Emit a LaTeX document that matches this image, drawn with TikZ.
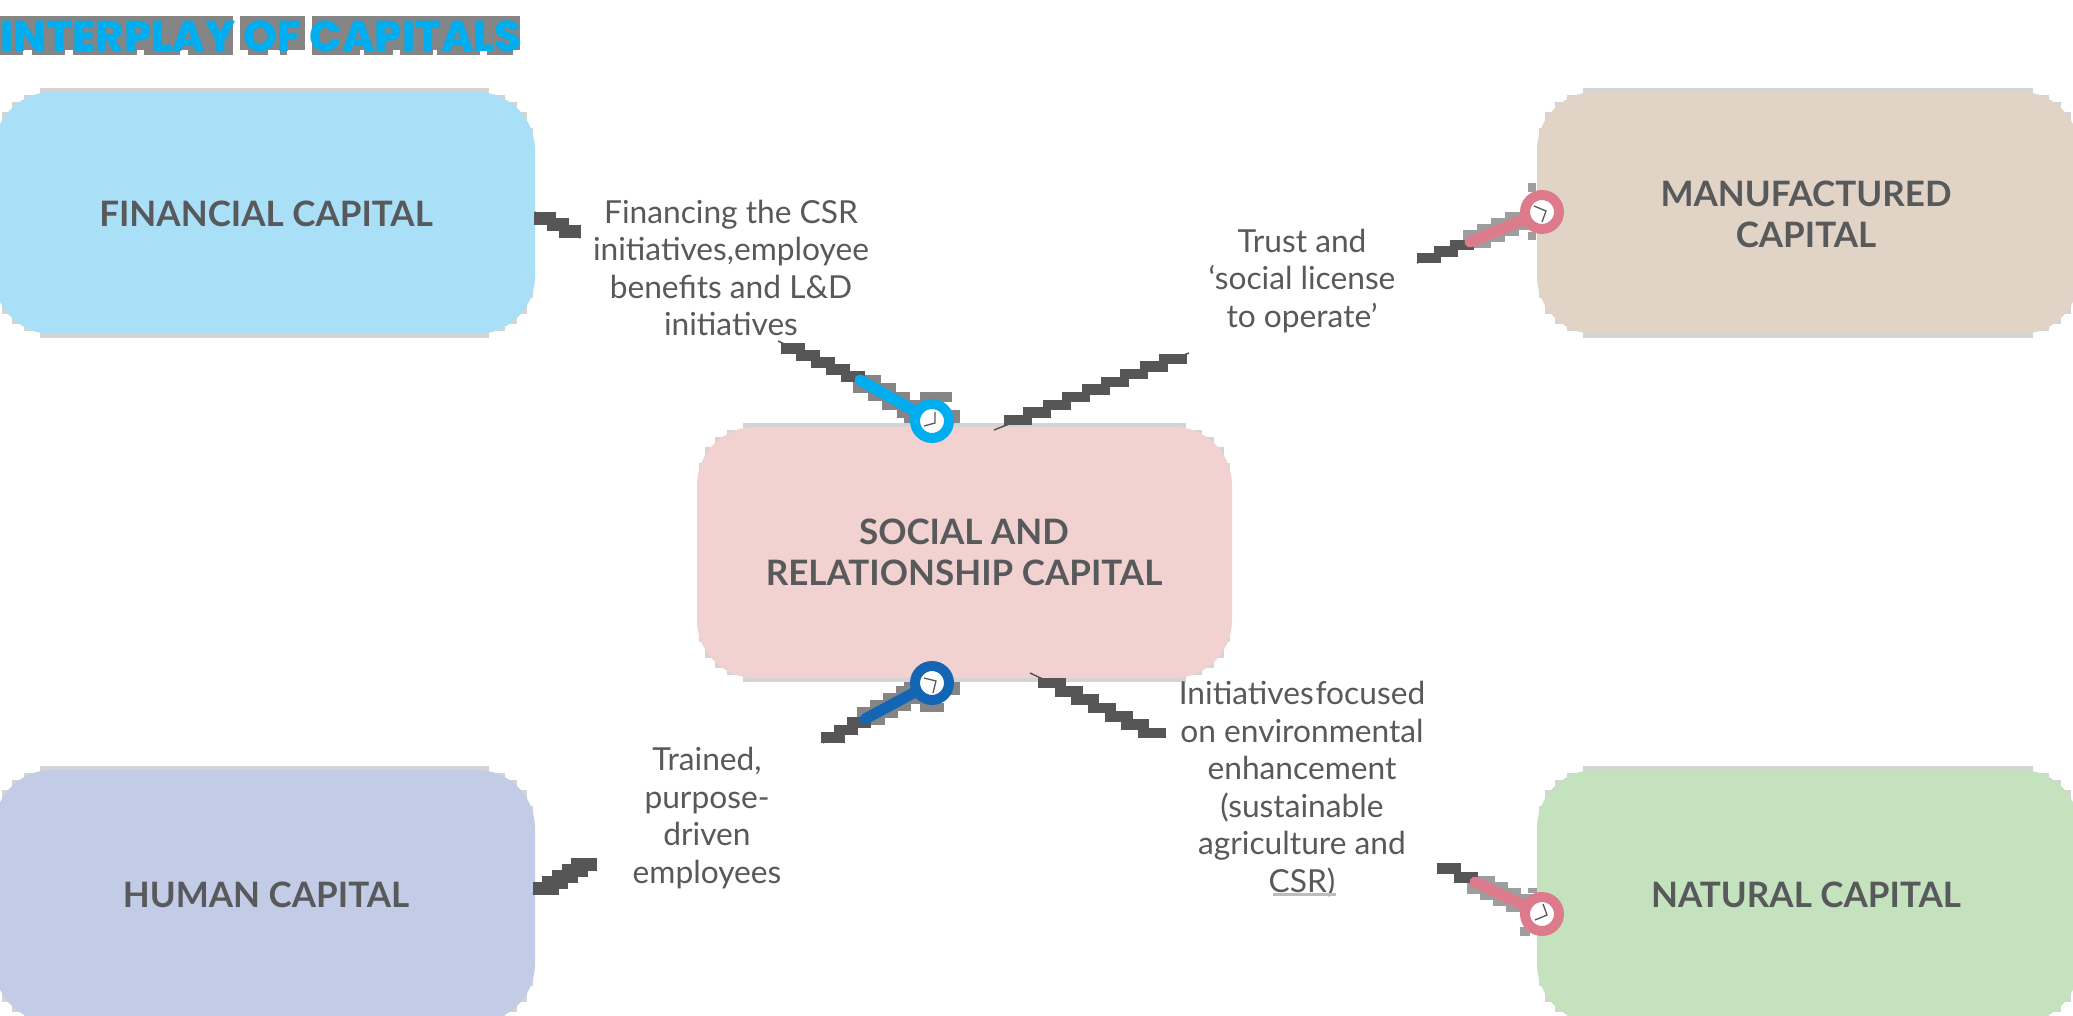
\documentclass[tikz,border=0pt]{standalone}
\usepackage{fontspec}
\usetikzlibrary{calc}
\setmainfont{Lato}
\newfontfamily\titlefont{Poppins ExtraBold}
\definecolor{ink}{HTML}{58595B}
\definecolor{stairdark}{HTML}{565656}
\definecolor{rimgrey}{HTML}{D4D4D4}
\definecolor{titleblue}{HTML}{00AEEF}
\definecolor{titlegrey}{HTML}{858585}
\definecolor{pinkgrey}{HTML}{9E9E9E}
\definecolor{finfill}{HTML}{A9E0F8}
\definecolor{manfill}{HTML}{E1D4C6}
\definecolor{socfill}{HTML}{F2D2D1}
\definecolor{humfill}{HTML}{C2CCE6}
\definecolor{natfill}{HTML}{C5E2BF}
\definecolor{pinkc}{HTML}{DD7A8B}
\definecolor{blue1}{HTML}{00AEEF}
\definecolor{blue2}{HTML}{1565B5}
\tikzset{
  x=1pt,y=-1pt,
  capbox/.style={rounded corners=58pt,inner sep=0pt,align=center,text=ink,
    font=\fontsize{35}{41}\selectfont\bfseries},
  lbl/.style={inner sep=0pt,align=center,text=ink,font=\fontsize{31.7}{37.5}\selectfont},
  hub/.style={circle,draw=#1,fill=white,line width=10pt,minimum size=34pt,inner sep=0pt},
  stem/.style={draw=#1,line width=11pt,line cap=round},
  thinline/.style={draw=stairdark,line width=1.5pt},
  hands/.style={draw=ink,line width=1.3pt},
}
% from, to, blocks, colour, block width, block height
\newcommand\stairs[6]{%
  \foreach \i in {1,...,#3}{%
    \path ($(#1)!{(\i-0.5)/#3}!(#2)$) coordinate (stp);
    \fill[#4] ([shift={({-(#5)/2},{-(#6)/2})}]stp) rectangle ([shift={({(#5)/2},{(#6)/2})}]stp);
  }}
\newcommand\rim[4]{%
  \foreach \ix/\iy in {46/-4,30/3,18/10,8/20,2/36}{%
    \fill[rimgrey] ({#1+\ix},{#2+\iy}) rectangle ({#3-\ix},{#4-\iy});
  }}
\begin{document}
\begin{tikzpicture}
\clip (0,0) rectangle (2073,1016);
\fill[white] (0,0) rectangle (2073,1016);
% title blocks
\foreach \a/\b in {0/233,240/305,312/520}{\fill[titlegrey] (\a,16) rectangle (\b,50);}
\foreach \a/\b in {0/23,32/65,73/137,144/180,188/233,248/268,280/287,312/360,364/393,400/433,437/480,487/513}{\fill[titlegrey] (\a,50) rectangle (\b,55);}
\node[anchor=west,inner sep=0pt,text=titleblue,font=\fontsize{43}{43}\selectfont\titlefont] (title) at (0,36) {INTERPLAY OF CAPITALS};

% grey blocks behind the coloured stems
\coordinate (a1) at (778,341); \coordinate (a2) at (860,380); \coordinate (h1) at (932,421);
\coordinate (b1) at (1417,263); \coordinate (b2) at (1470,242); \coordinate (h2) at (1542,212);
\coordinate (c1) at (823,743); \coordinate (c2) at (865,719); \coordinate (h3) at (932,683);
\coordinate (d1) at (1440,864); \coordinate (d2) at (1475,882); \coordinate (h4) at (1542,914);
\stairs{a2}{$(h1)+(-14,-8)$}{4}{titlegrey}{28}{18}
\stairs{b2}{$(h2)+(-16,6)$}{4}{pinkgrey}{28}{18}
\stairs{c2}{$(h3)+(-16,8)$}{4}{titlegrey}{28}{18}
\stairs{d2}{$(h4)+(-16,-8)$}{4}{pinkgrey}{28}{18}
\fill[titlegrey] (920,392) rectangle (952,402);
\fill[titlegrey] (904,410) rectangle (960,430);
\fill[pinkgrey] (1528,183) rectangle (1536,192);
\fill[pinkgrey] (1528,232) rectangle (1536,240);
\fill[titlegrey] (904,674) rectangle (960,695);
\fill[titlegrey] (920,703) rectangle (944,712);
\fill[pinkgrey] (1528,888) rectangle (1540,893);
\fill[pinkgrey] (1520,927) rectangle (1530,936);

% boxes
\rim{-6}{92}{535}{334}
\rim{1537}{92}{2079}{334}
\rim{697}{427}{1232}{678}
\rim{-6}{770}{535}{1022}
\rim{1537}{770}{2079}{1022}
\node[capbox,fill=finfill,minimum width=541pt,minimum height=242pt] (fin) at (264.5,213) {};
\node[capbox,fill=manfill,minimum width=542pt,minimum height=242pt] (man) at (1808,213) {};
\node[capbox,fill=socfill,minimum width=535pt,minimum height=251pt] (soc) at (964.5,552.5) {};
\node[capbox,fill=humfill,minimum width=541pt,minimum height=252pt] (hum) at (264.5,896) {};
\node[capbox,fill=natfill,minimum width=542pt,minimum height=252pt] (nat) at (1808,896) {};
\node[capbox] (fint) at (266,214) {FINANCIAL CAPITAL};
\node[capbox] (mant) at (1806,214) {MANUFACTURED\\CAPITAL};
\node[capbox] (soct) at (964,552) {SOCIAL AND\\RELATIONSHIP CAPITAL};
\node[capbox] (humt) at (266,895) {HUMAN CAPITAL};
\node[capbox] (natt) at (1806,895) {NATURAL CAPITAL};

% labels
\node[lbl] (l1) at (731,268) {Financing the CSR\\initiatives,employee\\benefits and L\&D\\initiatives};
\node[lbl] (l2) at (1302,281) {Trust and\\‘social license\\to operate’};
\node[lbl] (l3) at (707,818) {Trained,\\purpose-\\driven\\employees};
\node[lbl] (l4) at (1302,789) {Initiatives\hspace{0.06em}focused\\on environmental\\enhancement\\(sustainable\\agriculture and\\CSR)};
\fill[black!26] (1273,893) rectangle (1336,896);

% plain connectors
\coordinate (p1) at (535,212); \coordinate (p2) at (580,238);
\coordinate (q1) at (994,430); \coordinate (q2) at (1189,353);
\coordinate (r1) at (533,894); \coordinate (r2) at (595,862);
\coordinate (s1) at (1030,673); \coordinate (s2) at (1166,737);
\stairs{$(p1)+(4,3)$}{$(p2)+(-4,-3)$}{3}{stairdark}{22}{13}
\draw[thinline] (p1) -- (p2);
\stairs{$(q1)+(14,-6)$}{$(q2)+(-6,2)$}{9}{stairdark}{28}{10.5}
\draw[thinline] (q1) -- (q2);
\stairs{$(r1)+(8,-2)$}{$(r2)+(-6,-1)$}{5}{stairdark}{26}{13}
\draw[thinline] (r1) -- (r2);
\stairs{$(s1)+(14,6)$}{$(s2)+(-6,0)$}{7}{stairdark}{28}{10.5}
\draw[thinline] (s1) -- (s2);

% coloured connectors
\stairs{$(a1)+(8,4)$}{a2}{5}{stairdark}{24}{10.5} \draw[thinline] (a1) -- (a2);
\stairs{$(b1)+(4,-2)$}{b2}{3}{stairdark}{24}{10.5} \draw[thinline] (b1) -- (b2);
\stairs{$(c1)+(4,-2)$}{c2}{3}{stairdark}{24}{10.5} \draw[thinline] (c1) -- (c2);
\stairs{d1}{d2}{2}{stairdark}{24}{10.5} \draw[thinline] (d1) -- (d2);
\draw[stem=blue1] (a2) -- (h1);
\draw[stem=pinkc] (b2) -- (h2);
\draw[stem=blue2] (c2) -- (h3);
\draw[stem=pinkc] (d2) -- (h4);
\node[hub=blue1] (n1) at (h1) {};
\node[hub=pinkc] (n2) at (h2) {};
\node[hub=blue2] (n3) at (h3) {};
\node[hub=pinkc] (n4) at (h4) {};
\draw[hands] (935,412) -- (935,423) -- (924,426);
\draw[hands] (1534,206) -- (1546,211) -- (1542,222);
\draw[hands] (924,678) -- (936,681) -- (933,693);
\draw[hands] (1543,904) -- (1547,915) -- (1535,920);
\end{tikzpicture}
\end{document}
